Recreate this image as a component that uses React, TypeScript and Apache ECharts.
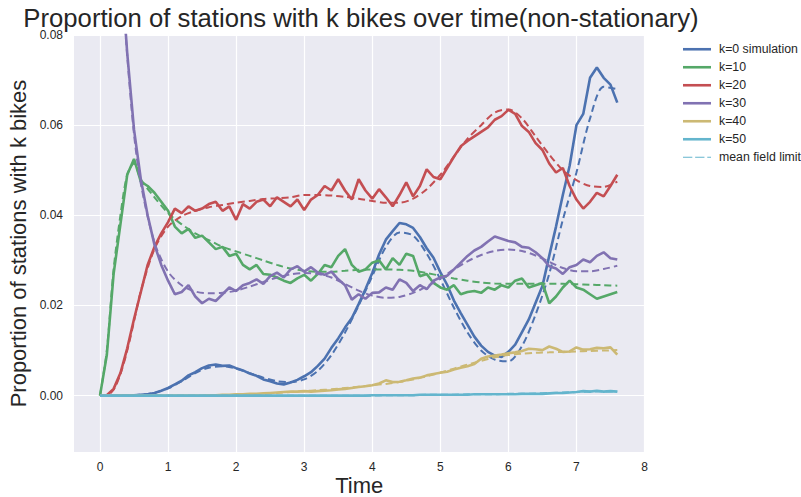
import React, { useEffect, useRef } from "react";
import * as echarts from "echarts";

// Simulation time grid: 0.0 .. 7.6 step 0.1 (77 points)
const SIM_T: number[] = Array.from({ length: 77 }, (_, i) => i / 10);

const SIM_K0 = [
  0, 0, 0, 0, 0, 0.0001, 0.0002, 0.0003, 0.0006, 0.0011,
  0.0017, 0.0025, 0.0033, 0.0045, 0.0052, 0.0061, 0.0067, 0.0069, 0.0066, 0.0067,
  0.0061, 0.0056, 0.0049, 0.0044, 0.0036, 0.0032, 0.0027, 0.0025, 0.0029, 0.0035,
  0.0043, 0.0052, 0.0066, 0.0082, 0.0106, 0.0127, 0.0151, 0.0172, 0.0203, 0.0236,
  0.0272, 0.0313, 0.0346, 0.0365, 0.0383, 0.038, 0.0372, 0.0352, 0.0327, 0.0306,
  0.0274, 0.0246, 0.0211, 0.0183, 0.0157, 0.0131, 0.0111, 0.0097, 0.0089, 0.0086,
  0.0097, 0.0113, 0.0141, 0.0169, 0.0206, 0.0243, 0.031, 0.0375, 0.0445, 0.051,
  0.06, 0.0625, 0.0705, 0.0728, 0.0705, 0.069, 0.065,
];
const SIM_K10 = [
  0, 0.009, 0.027, 0.038, 0.049, 0.0525, 0.0475, 0.0465, 0.045, 0.043,
  0.041, 0.0375, 0.036, 0.037, 0.035, 0.0355, 0.034, 0.0325, 0.033, 0.031,
  0.0315, 0.029, 0.028, 0.029, 0.027, 0.0268, 0.0262, 0.0255, 0.025, 0.026,
  0.0268, 0.0255, 0.027, 0.029, 0.0285, 0.031, 0.0325, 0.029, 0.0275, 0.028,
  0.0295, 0.03, 0.028, 0.0305, 0.029, 0.0315, 0.031, 0.0265, 0.027, 0.025,
  0.024, 0.0235, 0.0245, 0.0225, 0.023, 0.0232, 0.0228, 0.024, 0.0235, 0.0245,
  0.024, 0.0255, 0.026, 0.024, 0.0245, 0.025, 0.0205, 0.022, 0.024, 0.0255,
  0.024, 0.0235, 0.0225, 0.0215, 0.022, 0.0225, 0.023,
];
const SIM_K20 = [
  0, 0.0001, 0.0015, 0.005, 0.0105, 0.017, 0.023, 0.029, 0.033, 0.036,
  0.0385, 0.0415, 0.0405, 0.042, 0.041, 0.0415, 0.0425, 0.043, 0.041, 0.042,
  0.039, 0.0425, 0.0415, 0.043, 0.0435, 0.042, 0.044, 0.043, 0.042, 0.0435,
  0.0412, 0.0435, 0.0445, 0.0465, 0.0455, 0.048, 0.0455, 0.0435, 0.048, 0.0455,
  0.0437, 0.0458, 0.044, 0.042, 0.0445, 0.0473, 0.0442, 0.0465, 0.0502, 0.0485,
  0.048, 0.0505, 0.053, 0.0553, 0.0565, 0.0575, 0.0585, 0.0595, 0.0612, 0.062,
  0.0634, 0.0625, 0.0598, 0.0585, 0.056, 0.0545, 0.0515, 0.0495, 0.0505, 0.0465,
  0.0435, 0.0415, 0.043, 0.045, 0.0442, 0.0465, 0.049,
];
const SIM_K30 = [
  0.25, 0.18, 0.13, 0.097, 0.076, 0.059, 0.048, 0.04, 0.0335, 0.029,
  0.0255, 0.0225, 0.023, 0.0245, 0.022, 0.0205, 0.0215, 0.021, 0.0225, 0.024,
  0.0232, 0.0245, 0.025, 0.0258, 0.0248, 0.0265, 0.0273, 0.0262, 0.028, 0.0287,
  0.0275, 0.0285, 0.0273, 0.0268, 0.0275, 0.0258, 0.0245, 0.0213, 0.0225, 0.0215,
  0.0228, 0.0229, 0.024, 0.0235, 0.0258, 0.025, 0.0232, 0.0245, 0.0236, 0.0255,
  0.0262, 0.0266, 0.028, 0.0295, 0.031, 0.0322, 0.033, 0.0342, 0.0353, 0.0348,
  0.0343, 0.034, 0.033, 0.0328, 0.0318, 0.0305, 0.0287, 0.0282, 0.027, 0.0285,
  0.029, 0.0302, 0.0296, 0.031, 0.0318, 0.0305, 0.0302,
];
const SIM_K40 = [
  0, 0, 0, 0, 0, 0, 0, 0, 0, 0,
  0, 0, 0, 0, 0, 0, 0.0001, 0.0001, 0.0002, 0.0002,
  0.0003, 0.0003, 0.0004, 0.0004, 0.0005, 0.0006, 0.0007, 0.0008, 0.0009, 0.0009,
  0.001, 0.0009, 0.001, 0.0011, 0.0012, 0.0014, 0.0015, 0.0017, 0.0019, 0.0021,
  0.0023, 0.0027, 0.0034, 0.003, 0.0031, 0.0034, 0.0038, 0.004, 0.0045, 0.0048,
  0.0051, 0.0053, 0.0058, 0.0062, 0.0065, 0.007, 0.0082, 0.0087, 0.0089, 0.0091,
  0.0094, 0.0096, 0.0099, 0.0104, 0.0103, 0.0101, 0.0109, 0.0104, 0.0097, 0.0098,
  0.0107, 0.0102, 0.0103, 0.0106, 0.0105, 0.0107, 0.0091,
];
const SIM_K50 = [
  0, 0, 0, 0, 0, 0, 0, 0, 0, 0,
  0, 0, 0, 0, 0, 0, 0, 0, 0, 0,
  0, 0, 0, 0, 0, 0, 0, 0, 0, 0,
  0, 0, 0, 0, 0, 0, 0, 0, 0, 0,
  0.0001, 0.0001, 0.0001, 0.0001, 0.0001, 0.0001, 0.0001, 0.0002, 0.0002, 0.0002,
  0.0002, 0.0002, 0.0002, 0.0002, 0.0002, 0.0003, 0.0003, 0.0003, 0.0003, 0.0003,
  0.0003, 0.0003, 0.0004, 0.0004, 0.0004, 0.0004, 0.0005, 0.0006, 0.0006, 0.0007,
  0.0008, 0.001, 0.0009, 0.0011, 0.0009, 0.001, 0.0009,
];

// Mean field time grid (42 points)
const MF_T = [
  0, 0.1, 0.2, 0.3, 0.4, 0.5, 0.6, 0.8, 1.0, 1.2, 1.4, 1.6, 1.8, 2.0, 2.2, 2.4, 2.6, 2.8, 3.0, 3.2, 3.4,
  3.6, 3.8, 4.0, 4.2, 4.4, 4.6, 4.8, 5.0, 5.2, 5.4, 5.6, 5.8, 6.0, 6.2, 6.4, 6.6, 6.8, 7.0, 7.2, 7.4, 7.6,
];
const MF_K0 = [
  0, 0, 0, 0, 0, 0.0001, 0.0002, 0.0006, 0.0016, 0.0032, 0.005, 0.0062, 0.0065, 0.006, 0.005, 0.004,
  0.0032, 0.003, 0.0036, 0.0055, 0.009, 0.014, 0.02, 0.0265, 0.033, 0.0362, 0.0355, 0.0315, 0.0258,
  0.0195, 0.014, 0.01, 0.008, 0.0076, 0.011, 0.018, 0.027, 0.039, 0.0495, 0.0615, 0.0685, 0.068,
];
const MF_K10 = [
  0, 0.01, 0.028, 0.04, 0.049, 0.0515, 0.048, 0.044, 0.0405, 0.038, 0.036, 0.0345, 0.033, 0.032, 0.031,
  0.03, 0.029, 0.0282, 0.0277, 0.0275, 0.0275, 0.0277, 0.0279, 0.028, 0.028, 0.0279, 0.0277, 0.0272,
  0.0266, 0.026, 0.0255, 0.0251, 0.0249, 0.0248, 0.0248, 0.0248, 0.0248, 0.0248, 0.0247, 0.0246, 0.0245,
  0.0244,
];
const MF_K20 = [
  0, 0.0001, 0.0013, 0.0048, 0.01, 0.0165, 0.0232, 0.0325, 0.0375, 0.0398, 0.041, 0.0418, 0.0423,
  0.0428, 0.0432, 0.0436, 0.0438, 0.044, 0.0445, 0.0445, 0.0444, 0.0441, 0.0437, 0.0432, 0.0428, 0.0428,
  0.0437, 0.0458, 0.049, 0.053, 0.057, 0.06, 0.0628, 0.0635, 0.0615, 0.0575, 0.0535, 0.05, 0.0478,
  0.0465, 0.0463, 0.0475,
];
const MF_K30 = [
  0.25, 0.18, 0.13, 0.097, 0.0755, 0.058, 0.047, 0.034, 0.0275, 0.0245, 0.0231, 0.0227, 0.0228, 0.0233,
  0.0242, 0.0252, 0.0262, 0.0269, 0.0272, 0.027, 0.0262, 0.0248, 0.0233, 0.0222, 0.0217, 0.0219,
  0.0228, 0.0242, 0.026, 0.028, 0.0298, 0.0312, 0.0321, 0.0324, 0.0321, 0.0311, 0.0297, 0.0283,
  0.0276, 0.0276, 0.0281, 0.0288,
];
const MF_K40 = [
  0, 0, 0, 0, 0, 0, 0, 0, 0, 0, 0, 0, 0.0001, 0.0002, 0.0003, 0.0004, 0.0006, 0.0008, 0.001, 0.0012,
  0.0014, 0.0017, 0.002, 0.0023, 0.0026, 0.003, 0.0036, 0.0043, 0.0051, 0.006, 0.0069, 0.0077, 0.0085,
  0.009, 0.0093, 0.0095, 0.0096, 0.0097, 0.0098, 0.0099, 0.01, 0.0101,
];
const MF_K50 = [
  0, 0, 0, 0, 0, 0, 0, 0, 0, 0, 0, 0, 0, 0, 0, 0, 0, 0, 0, 0, 0, 0, 0, 0, 0.0001, 0.0001, 0.0001,
  0.0002, 0.0002, 0.0002, 0.0003, 0.0003, 0.0003, 0.0004, 0.0004, 0.0005, 0.0006, 0.0007, 0.0008,
  0.0009, 0.0009, 0.001,
];

const X_TICKS = [0, 1, 2, 3, 4, 5, 6, 7, 8];
const Y_TICKS = [0, 0.02, 0.04, 0.06, 0.08];

const SIM_NAMES = ["k=0 simulation", "k=10", "k=20", "k=30", "k=40", "k=50"];
const MF_NAMES = ["mf k=0", "mf k=10", "mf k=20", "mf k=30", "mf k=40", "mean field limit"];
const COLORS = ["#4C72B0", "#55A868", "#C44E52", "#8172B2", "#CCB974", "#64B5CD"];

const SIMS = [SIM_K0, SIM_K10, SIM_K20, SIM_K30, SIM_K40, SIM_K50];
const MFS = [MF_K0, MF_K10, MF_K20, MF_K30, MF_K40, MF_K50];

const FONT = "Liberation Sans, Arial, Helvetica, sans-serif";
const DASH_ICON = "path://M0,0h10v1h-10z M13,0h10v1h-10z M26,0h4v1h-4z";

export default function App() {
  const ref = useRef<HTMLDivElement>(null);
  useEffect(() => {
    if (!ref.current) return;
    const chart = echarts.init(ref.current, undefined, { renderer: "svg" });
    const series: any[] = [];
    for (let i = 0; i < 6; i++) {
      series.push({
        name: SIM_NAMES[i],
        type: "line",
        data: SIM_T.map((t, j) => [t, SIMS[i][j]]),
        symbol: "none",
        showSymbol: false,
        color: COLORS[i],
        lineStyle: { width: 2.6, color: COLORS[i] },
        z: 3,
      });
      series.push({
        name: MF_NAMES[i],
        type: "line",
        data: MF_T.map((t, j) => [t, MFS[i][j]]),
        symbol: "none",
        showSymbol: false,
        smooth: 0.3,
        color: COLORS[i],
        lineStyle: { width: 2, color: COLORS[i], type: [7, 4] },
        z: 3,
      });
    }
    const legendData: any[] = SIM_NAMES.map((n) => ({ name: n, icon: "rect" }));
    legendData.push({ name: "mean field limit", icon: DASH_ICON });
    chart.setOption({
      animation: false,
      textStyle: { fontFamily: FONT },
      title: {
        text: "Proportion of stations with k bikes over time(non-stationary)",
        left: 356,
        textAlign: "center",
        top: 1,
        textStyle: { fontFamily: FONT, fontSize: 25.7, lineHeight: 24, fontWeight: "normal", color: "#262626" },
      },
      legend: {
        orient: "vertical",
        left: 678,
        top: 38,
        itemWidth: 28,
        itemHeight: 2.6,
        itemGap: 5.5,
        data: legendData,
        textStyle: { fontFamily: FONT, fontSize: 12.3, color: "#262626", lineHeight: 12.5, padding: [0, 0, 0, 3] },
      },
      grid: {
        left: 74,
        right: 156.5,
        top: 35,
        bottom: 45,
        show: true,
        containLabel: false,
        outerBoundsMode: "none",
        backgroundColor: "#EAEAF2",
        borderWidth: 0,
      },
      xAxis: {
        type: "value",
        min: -0.382,
        max: 8,
        name: "Time",
        nameLocation: "middle",
        nameGap: 22,
        nameMoveOverlap: false,
        nameTextStyle: { fontFamily: FONT, fontSize: 22, lineHeight: 22, color: "#262626" },
        axisLine: { show: false },
        axisTick: { show: false, customValues: X_TICKS },
        axisLabel: {
          customValues: X_TICKS,
          fontFamily: FONT,
          fontSize: 12,
          color: "#262626",
          margin: 9,
          formatter: (v: number) => String(Math.round(v)),
        },
        splitLine: { show: true, lineStyle: { color: "#ffffff", width: 1.2 } },
      },
      yAxis: {
        type: "value",
        min: -0.0125,
        max: 0.08,
        name: "Proportion of stations with k bikes",
        nameLocation: "middle",
        nameGap: 45,
        nameMoveOverlap: false,
        nameRotate: 90,
        nameTextStyle: { fontFamily: FONT, fontSize: 22, color: "#262626" },
        axisLine: { show: false },
        axisTick: { show: false, customValues: Y_TICKS },
        axisLabel: {
          customValues: Y_TICKS,
          fontFamily: FONT,
          fontSize: 12,
          color: "#262626",
          margin: 11,
          formatter: (v: number) => v.toFixed(2),
        },
        splitLine: { show: true, lineStyle: { color: "#ffffff", width: 1.2 } },
      },
      series,
    });
    return () => chart.dispose();
  }, []);
  return <div ref={ref} style={{ width: 801, height: 497, position: "absolute", left: 0, top: 0 }} />;
}
